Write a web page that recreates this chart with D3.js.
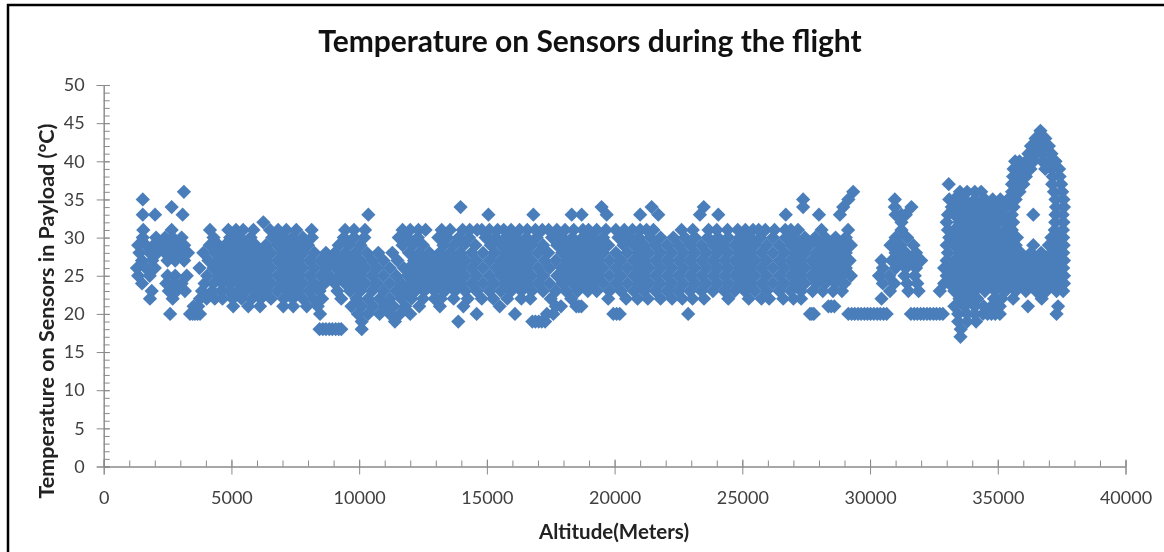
<!DOCTYPE html>
<html>
<head>
<meta charset="utf-8">
<script src="https://d3js.org/d3.v7.min.js"></script>
<style>
  html, body { margin: 0; padding: 0; background: #fff; }
  svg { display: block; filter: blur(0.4px); }
  text { font-family: Lato, "Open Sans", sans-serif; }
  .tick text { fill: #404040; font-size: 18px; }
  .domain, .tick line { stroke: #8a8a8a; }
</style>
</head>
<body>
<svg id="chart" width="1164" height="552"></svg>
<script>
var xTicks = [0, 5000, 10000, 15000, 20000, 25000, 30000, 35000, 40000];
var yTicks = [0, 5, 10, 15, 20, 25, 30, 35, 40, 45, 50];

// altitude readings (m), one list per whole-degree sensor temperature
var alt44 = [36670];
var alt43 = [36480,36860];
var alt42 = [36300,36650,37000];
var alt41 = [36200,36500,36800,37100];
var alt40 = [35680,35850,36100,36400,36750,37050,37260];
var alt39 = [35620,35850,36080,36280,36860,37100,37400];
var alt38 = [35600,35850,36100,37150,37420];
var alt37 = [33080,35560,35800,36000,37130,37480];
var alt36 = [3140,29340,33520,33800,34100,34350,35560,35850,37200,37520];
var alt35 = [1530,27380,29150,30970,33100,33300,33700,34100,34500,34800,35100,35400,35700,37260,37570];
var alt34 = [2660,13970,19490,21450,23490,27380,28950,30970,31620,33200,33500,33900,34300,34700,35000,35300,35620,37280,37590];
var alt33 = [1530,2010,3090,10360,15060,16820,18320,18710,19690,21000,21710,23340,24060,26700,28000,28820,31000,31230,31400,33050,33300,33700,34100,34500,34850,35200,35550,36390,37260,37540];
var alt32 = [6250,31230,33000,33500,33900,34300,34700,35050,35350,35600,37250,37570];
var alt31 = [1550,2660,4160,4880,5180,5460,5860,6510,6830,7150,7540,8140,9450,9800,10230,11700,12000,12320,12600,13230,13560,14050,14330,14620,14800,15100,15420,15660,15950,16280,16580,16900,17170,17420,17740,18060,18400,18760,18980,19300,19660,20050,20380,20700,21000,21250,21520,22620,23060,23680,24000,24420,24820,25120,25420,25640,25900,26260,26680,26900,27180,28100,29140,31230,33050,33300,33700,34100,34500,34900,35300,35550,37230,37550];
var alt30 = [1530,2050,2400,2700,3050,4300,4950,5350,5750,6600,7000,7400,7800,8150,9400,9800,10200,11550,11900,12300,13100,13450,13900,14300,14950,15350,15750,16150,16550,16950,17550,17950,18350,18750,19150,19550,20150,20550,20950,21400,21800,22300,22750,23150,23650,24050,24450,24900,25300,25700,26200,26700,27050,27450,27850,28250,28650,29050,31000,31450,33100,33500,33900,34300,34700,35100,35500,35750,37100,37360,37560];
var alt29 = [1350,1650,1950,2250,2550,2850,3150,4150,4500,4750,5150,5550,5950,6350,6800,7200,7600,8000,9200,9600,10050,11700,12100,12500,13300,13700,14100,14550,15150,15550,15950,16350,16750,17200,17750,18150,18550,18950,19350,19750,20350,20750,21150,21600,22050,22500,22950,23400,23850,24250,24700,25100,25500,25950,26450,26900,27250,27650,28050,28450,28850,29250,30800,31200,31700,33000,33300,33700,34100,34500,34900,35300,35700,36390,37000,37300,37580];
var alt28 = [1400,1800,2100,2400,2700,3000,3300,3900,4350,4650,4950,5350,5750,6150,6550,7000,7400,7800,8250,8700,9050,9450,9850,10300,10750,11300,11950,12350,12750,13150,13550,13950,14400,14850,15300,15750,16150,16550,17000,17400,17950,18350,18750,19150,19550,20050,20500,20950,21350,21800,22250,22700,23150,23600,24050,24450,24900,25300,25750,26200,26650,27100,27450,27900,28250,28650,29050,31000,31400,31800,33050,33500,33900,34300,34700,35100,35500,35900,36300,36700,37100,37400,37560];
var alt27 = [1500,1900,2500,2800,3150,4100,4500,4850,5150,5550,5950,6350,6800,7200,7600,8050,8500,8900,9250,9650,10050,10500,10950,11500,12150,12550,12950,13350,13750,14150,14600,15100,15550,15950,16350,16750,17250,17700,18150,18550,18950,19350,19800,20250,20750,21150,21600,22050,22500,22950,23400,23850,24300,24700,25100,25500,25950,26450,26900,27300,27700,28100,28450,28850,29200,30450,30850,31200,31600,32000,33000,33300,33700,34100,34500,34900,35300,35700,36100,36500,36900,37300,37590];
var alt26 = [1300,1650,2000,3750,4300,4700,5000,5350,5750,6150,6550,7000,7400,7800,8250,8700,9100,9450,9850,10250,10700,11200,11750,11950,12350,12750,13150,13550,13950,14400,14850,15350,15750,16150,16550,17000,17450,17950,18350,18750,19150,19550,20050,20500,20950,21350,21800,22250,22700,23150,23600,24050,24450,24900,25300,25750,26200,26650,27100,27450,27900,28250,28650,29050,30500,31000,31400,31800,32900,33100,33500,33900,34300,34700,35100,35500,35900,36300,36700,37100,37400,37560];
var alt25 = [1350,1800,2500,2800,3250,4050,4500,4850,5150,5550,5950,6350,6800,7200,7600,8050,8500,8850,9250,9650,10050,10500,10950,11450,11900,12150,12550,12950,13350,13750,14150,14600,15100,15550,15950,16350,16750,17200,17750,18150,18550,18950,19350,19800,20250,20750,21150,21600,22050,22500,22950,23400,23850,24300,24700,25100,25500,25950,26450,26900,27300,27700,28100,28450,28850,29250,30350,30750,31350,31750,33000,33300,33700,34100,34500,34900,35300,35700,36100,36500,36900,37300,37590];
var alt24 = [1500,2450,2750,3050,3950,4300,4650,5000,5350,5750,6150,6550,7000,7400,7800,8250,8650,9050,9450,9850,10250,10700,11200,11650,12000,12350,12750,13150,13550,13950,14400,14850,15300,15750,16150,16550,17000,17450,17950,18350,18750,19150,19550,20050,20500,20950,21350,21800,22250,22700,23150,23600,24050,24450,24900,25300,25750,26200,26650,27100,27450,27900,28250,28650,29000,30500,30950,31450,31850,32900,33100,33500,33900,34300,34700,35100,35500,35900,36300,36700,37100,37400,37590];
var alt23 = [1880,2550,2850,3180,3850,4250,4600,4900,5250,5550,5950,6350,6800,7200,7600,8050,8450,9150,9650,10050,10500,10950,11450,11850,12200,12550,12950,13350,13750,14150,14600,15100,15550,15950,16350,16750,17200,17700,18100,18550,18950,19300,19800,20250,20750,21150,21600,22050,22500,22950,23400,23850,24300,24700,25100,25500,25950,26450,26900,27300,27750,28150,28550,28900,30780,31500,31900,32730,33300,33700,34100,34500,34900,35300,35700,36100,36500,36900,37300,37560];
var alt22 = [1810,2700,3770,4030,4350,4650,5050,5400,5800,6150,6550,7050,7400,7800,8200,8550,9300,9900,10350,10800,11200,11650,12050,12500,12950,13200,13700,14250,14800,15250,15800,16350,16700,17500,18300,19750,20450,20900,21300,21800,22250,22650,23050,23500,24450,25250,25750,26050,26600,27000,27300,30450,33500,33900,34200,34850,35150,35600,36720];
var alt21 = [3520,3700,5070,5660,6120,7030,7420,7950,8380,9700,10100,10550,11000,11350,11800,12350,13160,14080,15500,17700,17900,18500,18600,18700,28370,28480,28600,33300,33700,34100,34450,34750,35080,36180,37360];
var alt20 = [2600,3380,3480,3570,3670,3770,8470,9950,10350,10800,11200,11600,12000,14600,16100,17350,17600,19950,20080,20200,22880,27650,27720,27800,29150,29280,29400,29530,29650,29780,29900,30020,30150,30280,30400,30530,30650,31600,31730,31850,31980,32100,32230,32350,32480,32600,32730,32850,33450,33800,34100,34420,34600,34750,34900,35080,37300];
var alt19 = [10100,11400,13880,16780,16900,17030,17150,17280,33450,33800,34150];
var alt18 = [8450,8580,8700,8830,8950,9080,9200,9300,10100,33550];
var alt17 = [33540];

var tempRows = [
  [44,alt44],[43,alt43],[42,alt42],[41,alt41],[40,alt40],[39,alt39],[38,alt38],[37,alt37],[36,alt36],
  [35,alt35],[34,alt34],[33,alt33],[32,alt32],[31,alt31],[30,alt30],[29,alt29],[28,alt28],[27,alt27],
  [26,alt26],[25,alt25],[24,alt24],[23,alt23],[22,alt22],[21,alt21],[20,alt20],[19,alt19],[18,alt18],[17,alt17]
];

var points = [];
tempRows.forEach(function(r) {
  r[1].forEach(function(a) { points.push({alt: a, temp: r[0]}); });
});

var svg = d3.select("#chart");

var x = d3.scaleLinear().domain([0, 40000]).range([103.7, 1125.5]);
var y = d3.scaleLinear().domain([0, 50]).range([466.5, 85]);

// frame of the pasted picture
svg.append("path").attr("d", "M8,552V5H1164").attr("fill", "none").attr("stroke", "#000").attr("stroke-width", 2.5);

var marker = d3.symbol().type(d3.symbolSquare).size(102);
svg.append("g").selectAll("path")
    .data(points)
  .enter().append("path")
    .attr("d", marker)
    .attr("fill", "#4a7ebb")
    .attr("transform", function(d) { return "translate(" + x(d.alt) + "," + y(d.temp) + ") rotate(45)"; });

//---------------------------------------
// minor ticks point into the plot, major ones cross the axis
svg.append("g").attr("transform", "translate(0,466.5)")
    .call(d3.axisTop(x).tickValues(d3.range(0, 40001, 1000)).tickSize(6).tickFormat(""))
    .selectAll("text").remove();
svg.append("g").attr("transform", "translate(103.7,0)")
    .call(d3.axisRight(y).tickValues(d3.range(0, 51, 1)).tickSize(6).tickFormat(""))
    .selectAll("text").remove();

var xAxis = svg.append("g").attr("transform", "translate(0,466.5)")
    .call(d3.axisBottom(x).tickValues(xTicks).tickSize(8).tickPadding(17).tickFormat(d3.format("d")));
xAxis.selectAll(".tick line").attr("y1", -7);

var yAxis = svg.append("g").attr("transform", "translate(103.7,0)")
    .call(d3.axisLeft(y).tickValues(yTicks).tickSize(7).tickPadding(12));
yAxis.selectAll(".tick line").attr("x1", -7).attr("x2", 6);

svg.selectAll(".domain").attr("stroke", "#8a8a8a");

//---------------------------------------
svg.append("text")
    .attr("x", 590).attr("y", 51.5)
    .attr("text-anchor", "middle")
    .attr("font-size", 30).attr("font-weight", 700).attr("fill", "#111")
    .text("Temperature on Sensors during the flight");

svg.append("text")
    .attr("x", 614).attr("y", 539)
    .attr("text-anchor", "middle")
    .attr("font-size", 20.5).attr("font-weight", 700).attr("fill", "#222")
    .text("Altitude(Meters)");

svg.append("text")
    .attr("transform", "translate(54,311) rotate(-90)")
    .attr("text-anchor", "middle")
    .attr("font-size", 21.5).attr("font-weight", 700).attr("fill", "#222")
    .text("Temperature on Sensors in Payload (°C)");
</script>
</body>
</html>
